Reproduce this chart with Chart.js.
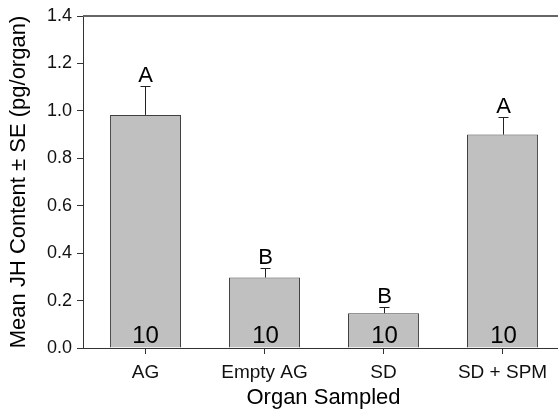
<!DOCTYPE html>
<html>
<head>
<meta charset="utf-8">
<script src="https://cdn.jsdelivr.net/npm/chart.js@4/dist/chart.umd.min.js"></script>
<style>
  html, body { margin: 0; padding: 0; background: #fff; overflow: hidden; }
  canvas { display: block; }
</style>
</head>
<body>
<canvas id="c" width="558" height="411"></canvas>
<script>
const categories = ["AG", "Empty AG", "SD", "SD + SPM"];
const means = [0.983, 0.297, 0.147, 0.900];
const seValues = [0.122, 0.041, 0.026, 0.072];
const letters = ["A", "B", "B", "A"];
const sampleSizes = ["10", "10", "10", "10"];
const yTicks = [0, 0.2, 0.4, 0.6, 0.8, 1.0, 1.2, 1.4];
const xTitle = "Organ Sampled";
const yTitle = "Mean JH Content \u00b1 SE (pg/organ)";

const FONT = "'Liberation Sans', Arial, Helvetica, sans-serif";

const annotate = {
  id: 'annotate',
  afterDraw(chart) {
    const ctx = chart.ctx;
    const xs = chart.scales.x, ys = chart.scales.y;
    const ca = chart.chartArea;
    ctx.save();
    // top frame line
    ctx.strokeStyle = '#666';
    ctx.lineWidth = 2;
    ctx.beginPath();
    ctx.moveTo(ca.left, ca.top);
    ctx.lineTo(ca.right, ca.top);
    ctx.stroke();
    // error bars
    ctx.strokeStyle = '#222';
    ctx.lineWidth = 1;
    means.forEach((m, i) => {
      const x = Math.round(xs.getPixelForValue(i)) + 0.5;
      const y0 = ys.getPixelForValue(m);
      const y1 = Math.round(ys.getPixelForValue(m + seValues[i])) + 0.5;
      ctx.beginPath();
      ctx.moveTo(x, y0);
      ctx.lineTo(x, y1);
      ctx.moveTo(x - 5, y1);
      ctx.lineTo(x + 5, y1);
      ctx.stroke();
      ctx.fillStyle = '#000';
      ctx.textAlign = 'center';
      ctx.textBaseline = 'alphabetic';
      ctx.font = "22px " + FONT;
      ctx.fillText(letters[i], x, y1 - 5);
      ctx.font = "24px " + FONT;
      ctx.fillText(sampleSizes[i], x, ys.getPixelForValue(0) - 5);
    });
    // axis titles
    ctx.fillStyle = '#000';
    ctx.textAlign = 'center';
    ctx.textBaseline = 'middle';
    ctx.font = "22px " + FONT;
    ctx.fillText(xTitle, (ca.left + ca.right) / 2 + 3, 398);
    ctx.save();
    ctx.translate(18.5, (ca.top + ca.bottom) / 2);
    ctx.rotate(-Math.PI / 2);
    ctx.font = "22px " + FONT;
    ctx.fillText(yTitle, 0, 0);
    ctx.restore();
    ctx.restore();
  }
};

new Chart(document.getElementById('c'), {
  type: 'bar',
  data: {
    datasets: [{
      data: means.map((m, i) => ({ x: i, y: m })),
      backgroundColor: '#c0c0c0',
      borderColor: '#404040',
      borderWidth: 1,
      barPercentage: 0.597,
      categoryPercentage: 1.0
    }]
  },
  options: {
    responsive: false,
    devicePixelRatio: 1,
    animation: false,
    layout: { padding: { top: 16, right: 0, left: 0, bottom: 0 } },
    plugins: { legend: { display: false }, tooltip: { enabled: false } },
    scales: {
      x: {
        type: 'linear',
        offset: false,
        min: -0.525,
        max: 3.466,
        afterBuildTicks(scale) { scale.ticks = categories.map((c, i) => ({ value: i })); },
        afterFit(scale) { scale.height = 63; },
        ticks: {
          autoSkip: false,
          maxRotation: 0,
          padding: 7,
          color: '#111',
          font: { family: FONT, size: 19 },
          callback: (v) => categories[v]
        },
        grid: { offset: false, drawOnChartArea: false, drawTicks: true, tickLength: 6, color: '#333' },
        border: { display: true, color: '#333', width: 1 }
      },
      y: {
        min: 0,
        max: 1.4,
        afterBuildTicks(scale) { scale.ticks = yTicks.map(v => ({ value: v })); },
        afterFit(scale) { scale.width = 83; },
        ticks: {
          padding: 5,
          color: '#111',
          font: { family: FONT, size: 18 },
          callback: (v) => Number(v).toFixed(1)
        },
        grid: { drawOnChartArea: false, drawTicks: true, tickLength: 6, color: '#333' },
        border: { display: true, color: '#333', width: 1 }
      }
    }
  },
  plugins: [annotate]
});
</script>
</body>
</html>
